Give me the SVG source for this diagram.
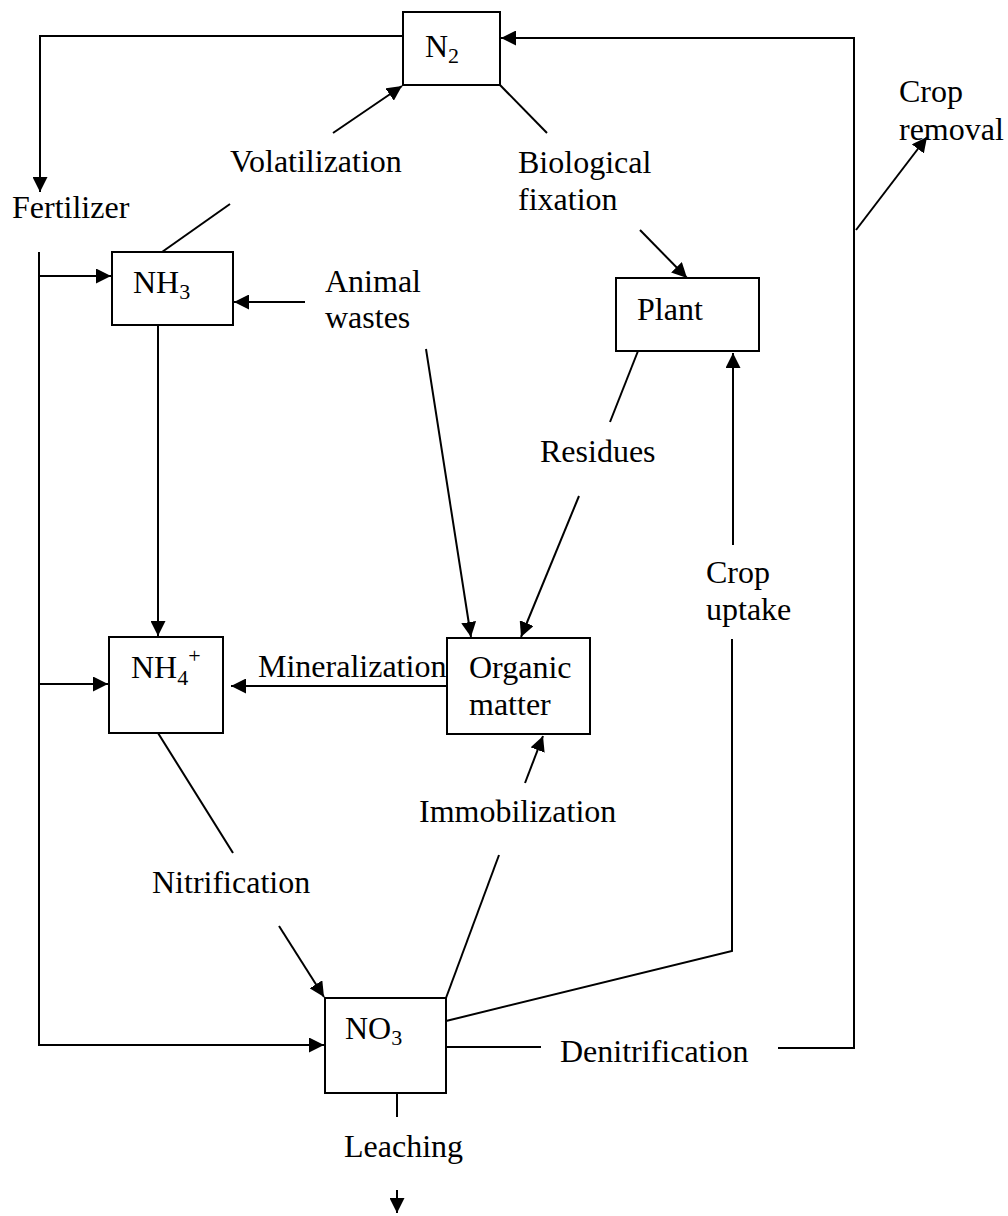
<svg xmlns="http://www.w3.org/2000/svg" width="1008" height="1216" viewBox="0 0 1008 1216">
<defs>
<marker id="arr" markerUnits="userSpaceOnUse" markerWidth="16" markerHeight="15" refX="15" refY="7.5" orient="auto">
<path d="M0,0 L15,7.5 L0,15 z" fill="#000"/>
</marker>
<style>
text{font-family:"Liberation Serif","Times New Roman",serif;font-size:32px;fill:#000}
.sub{font-size:22px}
.box{fill:#fff;stroke:#000;stroke-width:2}
.c{fill:none;stroke:#000;stroke-width:2}
.a{marker-end:url(#arr)}
</style>
</defs>
<rect width="1008" height="1216" fill="#fff"/>
<g id="connectors">
<path class="c a" d="M403,36 H40 V192"/>
<path class="c a" d="M778,1048 H854 V38 H501"/>
<path class="c a" d="M856,230 L927,137"/>
<path class="c" d="M162,252 L230,204"/>
<path class="c a" d="M333,133 L402,86"/>
<path class="c" d="M500,85 L547,133"/>
<path class="c a" d="M640,230 L687,278"/>
<path class="c a" d="M39,252 V1045 H324"/>
<path class="c a" d="M39,276 H111"/>
<path class="c a" d="M39,684 H108"/>
<path class="c a" d="M305,302 H234"/>
<path class="c a" d="M158,325 V636"/>
<path class="c a" d="M426,349 L471,637"/>
<path class="c" d="M638,351 L610,422"/>
<path class="c a" d="M579,496 L521,637"/>
<path class="c a" d="M733,545 V353"/>
<path class="c" d="M446,1021 L732,951 V639"/>
<path class="c a" d="M447,686 H231"/>
<path class="c" d="M446,998 L499,855"/>
<path class="c a" d="M525,783 L543,736"/>
<path class="c" d="M158,733 L233,853"/>
<path class="c a" d="M279,926 L324,997"/>
<path class="c" d="M446,1047 H541"/>
<path class="c" d="M397,1093 V1117"/>
<path class="c a" d="M397,1190 V1213"/>
</g>
<g id="N2"><rect class="box" x="403" y="12" width="97" height="73"/><text x="425" y="57">N<tspan class="sub" dy="6">2</tspan></text></g>
<g id="NH3"><rect class="box" x="112" y="252" width="121" height="73"/><text x="133" y="293">NH<tspan class="sub" dy="6">3</tspan></text></g>
<g id="NH4"><rect class="box" x="109" y="637" width="114" height="96"/><text x="131" y="678">NH<tspan class="sub" dy="7">4</tspan><tspan class="sub" dy="-22">+</tspan></text></g>
<g id="NO3"><rect class="box" x="325" y="998" width="121" height="95"/><text x="345" y="1039">NO<tspan class="sub" dy="6">3</tspan></text></g>
<g id="Plant"><rect class="box" x="616" y="278" width="143" height="73"/><text x="637" y="320">Plant</text></g>
<g id="OrganicMatter"><rect class="box" x="447" y="638" width="143" height="96"/><text x="469" y="678">Organic</text><text x="469" y="715">matter</text></g>
<g id="Fertilizer"><text x="12" y="218">Fertilizer</text></g>
<g id="Volatilization"><text x="230" y="172">Volatilization</text></g>
<g id="BiologicalFixation"><text x="518" y="173">Biological</text><text x="518" y="210">fixation</text></g>
<g id="CropRemoval"><text x="899" y="102">Crop</text><text x="899" y="140">removal</text></g>
<g id="AnimalWastes"><text x="325" y="292">Animal</text><text x="325" y="328">wastes</text></g>
<g id="Residues"><text x="540" y="462">Residues</text></g>
<g id="CropUptake"><text x="706" y="583">Crop</text><text x="706" y="620">uptake</text></g>
<g id="Mineralization"><text x="258" y="677">Mineralization</text></g>
<g id="Immobilization"><text x="419" y="822">Immobilization</text></g>
<g id="Nitrification"><text x="152" y="893">Nitrification</text></g>
<g id="Denitrification"><text x="560" y="1062">Denitrification</text></g>
<g id="Leaching"><text x="344" y="1157">Leaching</text></g>
</svg>
